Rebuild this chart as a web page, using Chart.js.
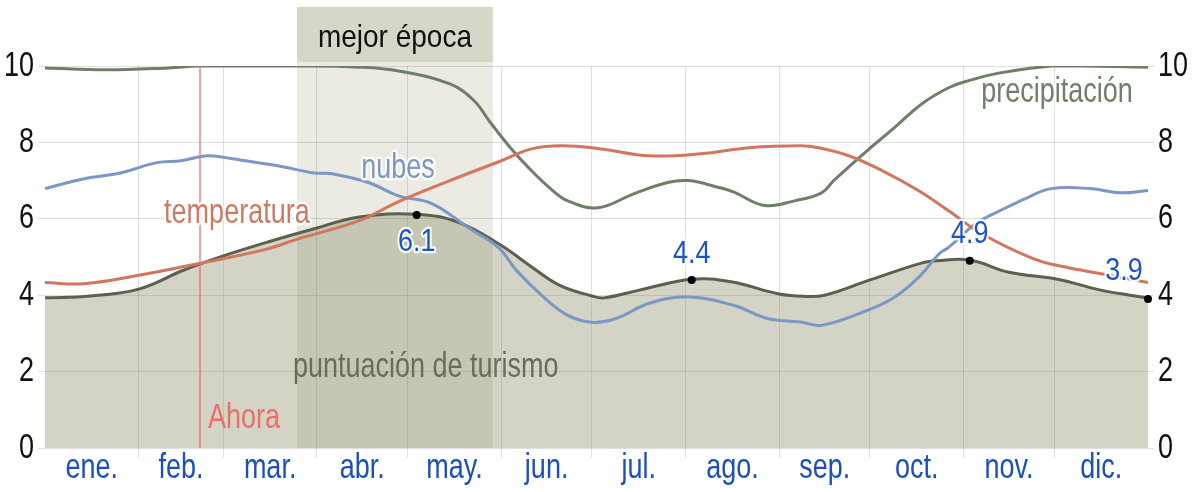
<!DOCTYPE html>
<html>
<head>
<meta charset="utf-8">
<script src="https://cdn.jsdelivr.net/npm/chart.js@4.4.1/dist/chart.umd.min.js"></script>
<style>
html,body{margin:0;padding:0;background:#fff;}
#wrap{width:1193px;height:492px;}
</style>
</head>
<body>
<div id="wrap"><canvas id="c" width="1193" height="492"></canvas></div>
<script>
// ---- data (day of year, value on 0-10 scale) ----
const monthLabels = ['ene.','feb.','mar.','abr.','may.','jun.','jul.','ago.','sep.','oct.','nov.','dic.'];
const monthStartDays = [0,31,59,90,120,151,181,212,243,273,304,334,365];
const yTicks = [0,2,4,6,8,10];

const tourismDays   = [0,15,31,46,59,74,90,104,123,137,151,160,170,181,185,197,214,227,243,251,258,273,290,295,306,319,335,349,359,365];
const tourismValues = [3.93,3.98,4.16,4.66,5.03,5.4,5.76,6.05,6.12,5.9,5.3,4.8,4.27,3.98,3.93,4.14,4.42,4.35,4.03,3.97,4.0,4.4,4.84,4.9,4.92,4.6,4.42,4.14,4.0,3.93];

const precipDays   = [0,20,41,51,84,104,117,134,142,147,154,160,167,173,183,195,206,213,223,228,238,248,257,261,272,281,290,299,305,316,333,343,365];
const precipValues = [9.95,9.9,9.95,10.0,10.0,9.97,9.87,9.53,9.09,8.56,7.86,7.34,6.81,6.47,6.29,6.66,6.95,7.0,6.82,6.7,6.35,6.47,6.68,7.0,7.78,8.38,9.0,9.43,9.6,9.82,10.0,10.0,9.97];

const tempDays   = [0,13,31,51,73,84,104,117,134,151,161,171,184,200,217,233,250,256,266,277,289,299,310,327,338,349,365];
const tempValues = [4.33,4.3,4.52,4.83,5.2,5.48,5.95,6.45,7.0,7.52,7.83,7.91,7.83,7.65,7.7,7.86,7.91,7.86,7.65,7.26,6.74,6.21,5.61,4.96,4.73,4.57,4.33];

const cloudDays   = [0,13,25,37,45,54,62,77,89,95,107,117,128,140,150,156,165,173,181,189,200,213,228,239,250,257,272,281,289,296,299,308,316,325,333,346,356,365];
const cloudValues = [6.79,7.05,7.2,7.47,7.52,7.65,7.57,7.39,7.2,7.18,6.95,6.6,6.4,5.77,5.25,4.65,3.95,3.47,3.29,3.39,3.79,3.95,3.73,3.39,3.3,3.21,3.6,3.94,4.46,5.09,5.25,5.87,6.21,6.55,6.79,6.79,6.68,6.74];

const peakDays   = [123,214,306,365];
const peakValues = [6.1,4.4,4.9,3.9];

const bestSeason = [83.4,148.2];   // "mejor época"
const nowDay = 51.3;               // "Ahora"

// ---- fonts ----
const FAMILY = '"Liberation Sans", Arial, sans-serif';
const FS = 27;
Chart.defaults.font.family = FAMILY;
Chart.defaults.font.size = FS;

// the reference text is drawn slightly tall and narrow: stretch glyphs vertically
const canvas = document.getElementById('c');
const c2d = canvas.getContext('2d');
let textStretch = 1.28;
const origFill = c2d.fillText.bind(c2d);
const origStroke = c2d.strokeText.bind(c2d);
c2d.fillText = function(t, x, y, mw){
  this.save(); this.translate(x, y); this.scale(1, textStretch);
  if (mw === undefined) origFill(t, 0, 0); else origFill(t, 0, 0, mw);
  this.restore();
};
c2d.strokeText = function(t, x, y, mw){
  this.save(); this.translate(x, y); this.scale(1, textStretch);
  if (mw === undefined) origStroke(t, 0, 0); else origStroke(t, 0, 0, mw);
  this.restore();
};

const pts = (xs, ys) => xs.map((d,i)=>({x:d, y:ys[i]}));
const monthMid = monthLabels.map((_,i)=>(monthStartDays[i]+monthStartDays[i+1])/2);
const boundaries = monthStartDays.slice(1,12);
const xTickValues = boundaries.concat(monthMid).sort((a,b)=>a-b);
const isBoundary = v => boundaries.includes(v);

const GRID = 'rgba(0,0,0,0.12)';

const bandPlugin = {
  id:'band',
  beforeDraw(chart){
    const {ctx, chartArea:a, scales:{x}} = chart;
    const x0 = x.getPixelForValue(bestSeason[0]), x1 = x.getPixelForValue(bestSeason[1]);
    ctx.save();
    ctx.fillStyle = '#ebebe4';
    ctx.fillRect(x0, 62, x1-x0, a.bottom-62);
    ctx.fillStyle = '#d6d7c9';
    ctx.fillRect(x0, 7, x1-x0, 55);
    ctx.fillStyle = '#111';
    ctx.font = (FS+1)+'px '+FAMILY;
    ctx.textAlign = 'center';
    ctx.textBaseline = 'alphabetic';
    textStretch = 1.12;
    ctx.fillText('mejor época', (x0+x1)/2, 47);
    textStretch = 1.28;
    ctx.restore();
  }
};

const seriesLabels = [
  {text:'temperatura', day:63.5, val:5.9, color:'#cc7a64', align:'center', halo:true},
  {text:'nubes', day:116.8, val:7.08, color:'#7d97c4', align:'center', halo:true},
  {text:'precipitación', day:334.9, val:9.06, color:'#6f8068', align:'center', halo:true},
  {text:'puntuación de turismo', day:126, val:1.85, color:'#6a6d5b', align:'center', halo:false},
  {text:'Ahora', day:53.9, val:0.52, color:'#ea6f6c', align:'left', halo:false}
];
const peakLabelPlacement = [{dx:0,dy:36},{dx:0,dy:-17},{dx:0,dy:-18},{dx:-24,dy:-19}];

const overlayPlugin = {
  id:'overlay',
  afterDatasetsDraw(chart){
    const {ctx, chartArea:a, scales:{x,y}} = chart;
    ctx.save();
    const nx = x.getPixelForValue(nowDay);
    ctx.strokeStyle = '#f07070'; ctx.lineWidth = 1.3;
    ctx.beginPath(); ctx.moveTo(nx, y.getPixelForValue(10)); ctx.lineTo(nx, a.bottom); ctx.stroke();
    ctx.font = FS+'px '+FAMILY;
    ctx.textBaseline = 'alphabetic';
    ctx.lineJoin = 'round';
    for (const l of seriesLabels){
      ctx.textAlign = l.align;
      const px = x.getPixelForValue(l.day), py = y.getPixelForValue(l.val);
      if (l.halo){ ctx.strokeStyle='rgba(255,255,255,0.85)'; ctx.lineWidth=4; ctx.strokeText(l.text, px, py); }
      ctx.fillStyle = l.color; ctx.fillText(l.text, px, py);
    }
    const meta = chart.getDatasetMeta(4);
    ctx.textAlign = 'center';
    textStretch = 1.15;
    meta.data.forEach((p,i)=>{
      const pl = peakLabelPlacement[i];
      const t = peakValues[i].toFixed(1);
      ctx.strokeStyle='rgba(255,255,255,0.9)'; ctx.lineWidth=4;
      ctx.strokeText(t, p.x+pl.dx, p.y+pl.dy);
      ctx.fillStyle='#1a55c8';
      ctx.fillText(t, p.x+pl.dx, p.y+pl.dy);
    });
    textStretch = 1.28;
    ctx.restore();
  }
};

new Chart(canvas, {
  type:'line',
  data:{
    datasets:[
      {label:'temperatura', data:pts(tempDays,tempValues), borderColor:'#d2765e', borderWidth:3, pointRadius:0, tension:0.4, fill:false, order:2},
      {label:'nubes', data:pts(cloudDays,cloudValues), borderColor:'#7d97c4', borderWidth:3, pointRadius:0, tension:0.4, fill:false, order:3},
      {label:'precipitación', data:pts(precipDays,precipValues), borderColor:'#6d8067', borderWidth:3, pointRadius:0, tension:0.4, fill:false, order:4},
      {label:'puntuación de turismo', data:pts(tourismDays,tourismValues), borderColor:'#5c604f', backgroundColor:'rgba(120,125,80,0.33)', borderWidth:3, pointRadius:0, tension:0.4, fill:'origin', order:5},
      {type:'scatter', label:'picos', data:pts(peakDays,peakValues), pointRadius:4, pointBackgroundColor:'#000', pointBorderColor:'#000', borderWidth:0, order:0, clip:false}
    ]
  },
  options:{
    responsive:false, animation:false, events:[],
    layout:{padding:{top:66,left:0,right:0,bottom:0}},
    plugins:{legend:{display:false}, tooltip:{enabled:false}},
    scales:{
      x:{
        type:'linear', position:'bottom', min:0, max:365,
        afterBuildTicks: s => { s.ticks = xTickValues.map(v=>({value:v})); },
        afterFit: s => { s.height = 44; },
        grid:{
          color: c => (c.tick && isBoundary(c.tick.value)) ? GRID : 'rgba(0,0,0,0)',
          tickColor: c => (c.tick && isBoundary(c.tick.value)) ? GRID : 'rgba(0,0,0,0)',
          tickLength:10, lineWidth:1
        },
        border:{display:false},
        ticks:{
          autoSkip:false, maxRotation:0, minRotation:0, padding:-6, color:'#1b4fbf',
          callback: v => { const i = monthMid.indexOf(v); return i>=0 ? monthLabels[i] : ''; }
        }
      },
      y:{
        position:'left', min:0, max:10,
        afterBuildTicks: s => { s.ticks = yTicks.map(v=>({value:v})); },
        afterFit: s => { s.width = 45; },
        grid:{color:GRID, tickLength:7},
        border:{display:false},
        ticks:{color:'#111', padding:4}
      },
      y2:{
        position:'right', min:0, max:10,
        afterBuildTicks: s => { s.ticks = yTicks.map(v=>({value:v})); },
        afterFit: s => { s.width = 45; },
        grid:{drawOnChartArea:false, color:GRID, tickLength:6},
        border:{display:false},
        ticks:{color:'#111', padding:4}
      }
    }
  },
  plugins:[bandPlugin, overlayPlugin]
});
</script>
</body>
</html>
